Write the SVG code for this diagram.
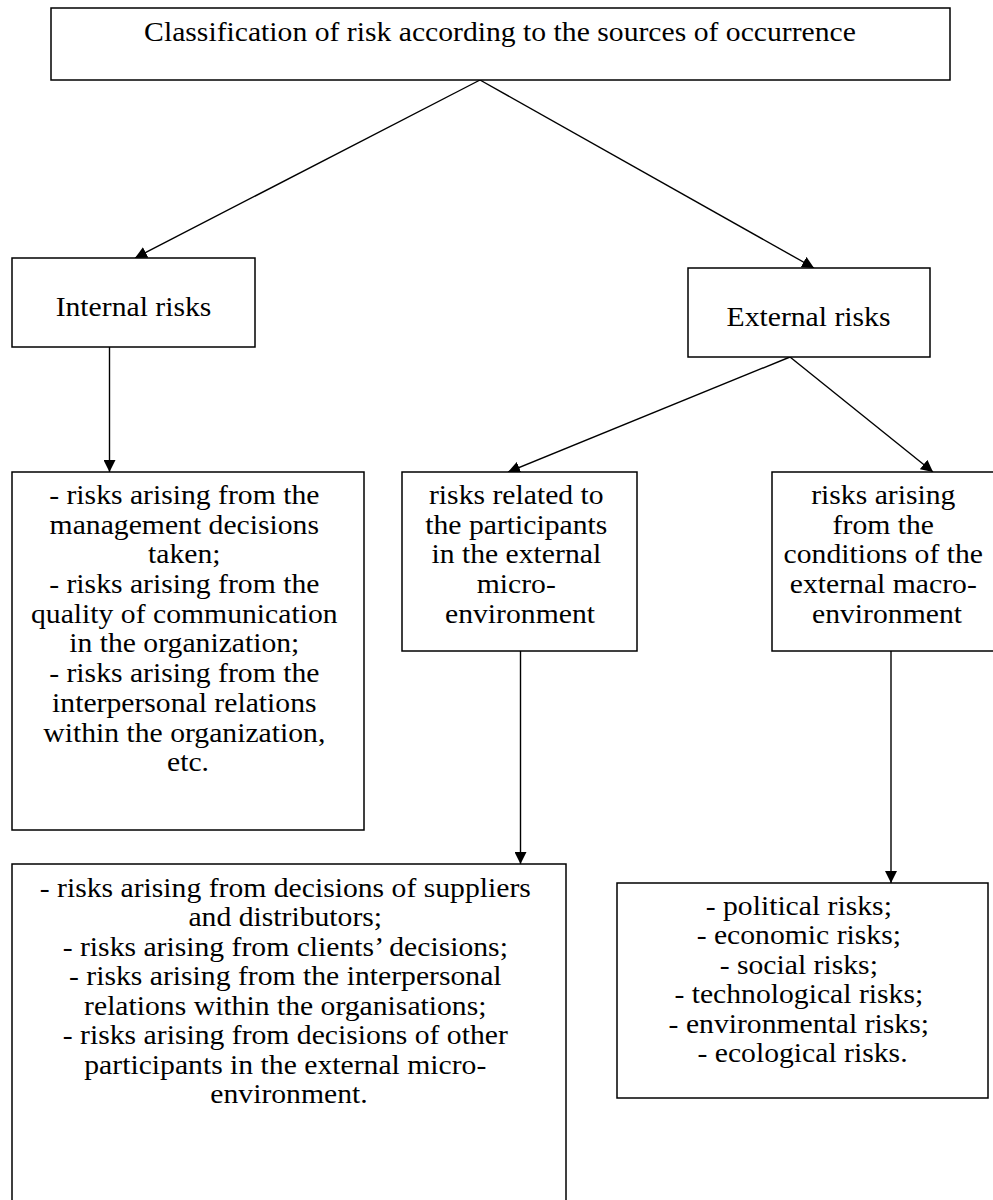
<svg xmlns="http://www.w3.org/2000/svg" width="993" height="1200" viewBox="0 0 993 1200">
<style>
.box{fill:#fff;stroke:#000;stroke-width:1.5}
.lbl{font-family:"Liberation Serif","Times New Roman",serif;font-size:26.5px;fill:#000;text-anchor:middle}
.con{stroke:#000;stroke-width:1.4;fill:none;marker-end:url(#arr)}
</style>
<defs>
<marker id="arr" markerUnits="userSpaceOnUse" markerWidth="12" markerHeight="12" refX="12" refY="6" orient="auto">
<path d="M0,0 L12,6 L0,12 Z" fill="#000"/>
</marker>
</defs>
<rect width="993" height="1200" fill="#fff"/>
<g id="connectors">
<line class="con" x1="480" y1="80" x2="135" y2="258"/>
<line class="con" x1="480" y1="80" x2="814" y2="268"/>
<line class="con" x1="109.5" y1="347" x2="109.5" y2="472"/>
<line class="con" x1="790" y1="357" x2="508" y2="472"/>
<line class="con" x1="790" y1="357" x2="933" y2="472"/>
<line class="con" x1="520.5" y1="651" x2="520.5" y2="864"/>
<line class="con" x1="891" y1="651" x2="891" y2="883"/>
</g>
<g id="root">
<rect class="box" x="51" y="8" width="899" height="72"/>
<text class="lbl" transform="translate(500,0) scale(1.12,1)" x="0" y="41">Classification of risk according to the sources of occurrence</text>
</g>
<g id="internal">
<rect class="box" x="12" y="258" width="243" height="89"/>
<text class="lbl" transform="translate(133.5,0) scale(1.12,1)" x="0" y="316">Internal risks</text>
</g>
<g id="external">
<rect class="box" x="688" y="268" width="242" height="89"/>
<text class="lbl" transform="translate(808.5,0) scale(1.12,1)" x="0" y="326">External risks</text>
</g>
<g id="internal-list">
<rect class="box" x="12" y="472" width="352" height="358"/>
<text class="lbl" transform="translate(188,0) scale(1.12,1)">
<tspan x="0" y="504">- risks arising from the</tspan>
<tspan x="0" y="533.7">management decisions</tspan>
<tspan x="0" y="563.4">taken;</tspan>
<tspan x="0" y="593.1">- risks arising from the</tspan>
<tspan x="0" y="622.8">quality of communication</tspan>
<tspan x="0" y="652.5">in the organization;</tspan>
<tspan x="0" y="682.2">- risks arising from the</tspan>
<tspan x="0" y="711.9">interpersonal relations</tspan>
<tspan x="0" y="741.6">within the organization,</tspan>
<tspan x="0" y="771.3">etc.</tspan>
</text>
</g>
<g id="micro">
<rect class="box" x="402" y="472" width="235" height="179"/>
<text class="lbl" transform="translate(520,0) scale(1.12,1)">
<tspan x="0" y="504">risks related to</tspan>
<tspan x="0" y="533.7">the participants</tspan>
<tspan x="0" y="563.4">in the external</tspan>
<tspan x="0" y="593.1">micro-</tspan>
<tspan x="0" y="622.8">environment</tspan>
</text>
</g>
<g id="macro">
<rect class="box" x="772" y="472" width="230" height="179"/>
<text class="lbl" transform="translate(887,0) scale(1.12,1)">
<tspan x="0" y="504">risks arising</tspan>
<tspan x="0" y="533.7">from the</tspan>
<tspan x="0" y="563.4">conditions of the</tspan>
<tspan x="0" y="593.1">external macro-</tspan>
<tspan x="0" y="622.8">environment</tspan>
</text>
</g>
<g id="micro-list">
<rect class="box" x="12" y="864" width="554" height="400"/>
<text class="lbl" transform="translate(289,0) scale(1.12,1)">
<tspan x="0" y="897">- risks arising from decisions of suppliers</tspan>
<tspan x="0" y="926.5">and distributors;</tspan>
<tspan x="0" y="956">- risks arising from clients’ decisions;</tspan>
<tspan x="0" y="985.5">- risks arising from the interpersonal</tspan>
<tspan x="0" y="1015">relations within the organisations;</tspan>
<tspan x="0" y="1044.5">- risks arising from decisions of other</tspan>
<tspan x="0" y="1074">participants in the external micro-</tspan>
<tspan x="0" y="1103.5">environment.</tspan>
</text>
</g>
<g id="macro-list">
<rect class="box" x="617" y="883" width="371" height="215"/>
<text class="lbl" transform="translate(802.5,0) scale(1.12,1)">
<tspan x="0" y="915">- political risks;</tspan>
<tspan x="0" y="944.5">- economic risks;</tspan>
<tspan x="0" y="974">- social risks;</tspan>
<tspan x="0" y="1003.5">- technological risks;</tspan>
<tspan x="0" y="1033">- environmental risks;</tspan>
<tspan x="0" y="1062.5">- ecological risks.</tspan>
</text>
</g>
</svg>
